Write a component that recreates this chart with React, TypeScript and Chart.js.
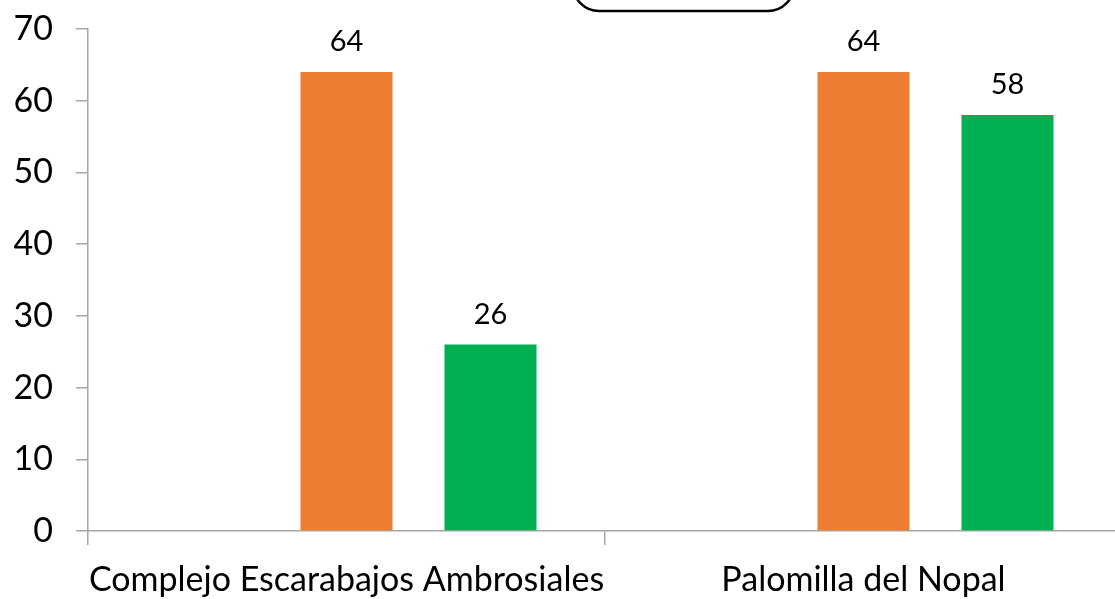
import React, { useEffect, useRef } from "react";
import { Chart, registerables } from "chart.js";

Chart.register(...registerables);

const categories = ["Complejo Escarabajos Ambrosiales", "Palomilla del Nopal"];
const seriesNames = ["Serie 1", "Serie 2", "Serie 3"];
const series1: (number | null)[] = [null, null];
const series2: number[] = [64, 64];
const series3: number[] = [26, 58];
const yTicks = [0, 10, 20, 30, 40, 50, 60, 70];

const FONT = "Lato, 'Open Sans', sans-serif";

const labelPlugin = {
  id: "valueLabels",
  afterDatasetsDraw(chart: any) {
    const ctx = chart.ctx;
    ctx.save();
    ctx.font = `29px ${FONT}`;
    ctx.fillStyle = "#000";
    ctx.textAlign = "center";
    ctx.textBaseline = "middle";
    chart.data.datasets.forEach((ds: any, i: number) => {
      const meta = chart.getDatasetMeta(i);
      meta.data.forEach((el: any, j: number) => {
        const v = ds.data[j];
        if (v === null || v === undefined) return;
        ctx.fillText(String(v), el.x, el.y - 30);
      });
    });
    ctx.restore();
  },
};

const boxPlugin = {
  id: "topBox",
  afterDraw(chart: any) {
    const ctx = chart.ctx;
    ctx.save();
    ctx.strokeStyle = "#000";
    ctx.lineWidth = 2.5;
    ctx.beginPath();
    ctx.roundRect(573, -45, 221, 56, 26);
    ctx.stroke();
    ctx.restore();
  },
};

export default function App() {
  const ref = useRef<HTMLCanvasElement | null>(null);
  useEffect(() => {
    if (!ref.current) return;
    const chart = new Chart(ref.current, {
      type: "bar",
      data: {
        labels: categories,
        datasets: [
          { label: seriesNames[0], data: series1, backgroundColor: "#4472C4" },
          { label: seriesNames[1], data: series2, backgroundColor: "#ED7D31" },
          { label: seriesNames[2], data: series3, backgroundColor: "#00B050" },
        ],
      },
      options: {
        responsive: false,
        animation: false,
        devicePixelRatio: 1,
        datasets: { bar: { categoryPercentage: 0.8356, barPercentage: 0.639 } },
        layout: { padding: { top: 29, left: 0, right: 8, bottom: 0 } },
        plugins: { legend: { display: false }, tooltip: { enabled: false } },
        scales: {
          x: {
            offset: true,
            afterFit(scale: any) {
              scale.height = 68;
              scale.paddingLeft = 0;
              scale.paddingRight = 0;
            },
            grid: {
              offset: true,
              drawOnChartArea: false,
              drawTicks: true,
              tickLength: 14,
              color: "#A6A6A6",
              lineWidth: 1.5,
            },
            border: { color: "#A6A6A6", width: 1.5 },
            ticks: {
              color: "#000",
              font: { size: 34, family: FONT },
              padding: 15,
              maxRotation: 0,
              minRotation: 0,
              autoSkip: false,
            },
          },
          y: {
            min: 0,
            max: 70,
            afterFit(scale: any) {
              scale.width = 88;
              scale.paddingTop = 0;
              scale.paddingBottom = 0;
            },
            afterBuildTicks(scale: any) {
              scale.ticks = yTicks.map((v) => ({ value: v }));
            },
            grid: {
              drawOnChartArea: false,
              drawTicks: true,
              tickLength: 12,
              color: "#A6A6A6",
              lineWidth: 1.5,
            },
            border: { color: "#A6A6A6", width: 1.5 },
            ticks: { color: "#000", font: { size: 34, family: FONT }, padding: 23 },
          },
        },
      },
      plugins: [labelPlugin, boxPlugin],
    });
    return () => chart.destroy();
  }, []);
  return (
    <div style={{ position: "fixed", left: 0, top: 0, width: 1115, height: 599, overflow: "hidden", background: "#fff" }}>
      <canvas ref={ref} width={1130} height={599} />
    </div>
  );
}
